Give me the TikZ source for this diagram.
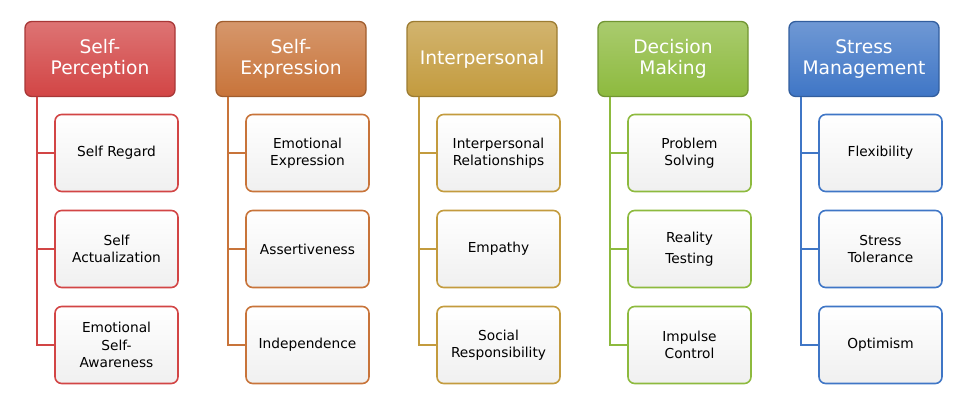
\documentclass[tikz,border=0pt]{standalone}
\usepackage{fontspec}
\setmainfont{DejaVu Sans}
\begin{document}
\begin{tikzpicture}[x=0.75pt,y=-0.75pt,
  hdr/.style={draw=#1!80!black, line width=1pt, rounded corners=5pt, top color=#1!75!white, bottom color=#1,
    minimum width=150*0.75pt, minimum height=75*0.75pt, text=white, font=\fontsize{14}{16}\selectfont, align=center, inner sep=1pt},
  kid/.style={draw=#1, line width=1.2pt, rounded corners=5pt, top color=white, bottom color=black!6,
    minimum width=123*0.75pt, minimum height=77*0.75pt, font=\fontsize{10.3}{13}\selectfont, align=center, inner sep=1pt},
  link/.style={draw=#1, line width=2pt}]
\useasboundingbox (0,0) rectangle (975,413);
\definecolor{cA}{HTML}{D24545}
\definecolor{cB}{HTML}{C8743A}
\definecolor{cC}{HTML}{C39B3E}
\definecolor{cD}{HTML}{8DBA3E}
\definecolor{cE}{HTML}{3F76C6}
\foreach \i/\c/\h/\a/\b/\d in {
 0/cA/{Self-\\Perception}/{Self Regard}/{Self\\Actualization}/{Emotional\\Self-\\Awareness},
 1/cB/{Self-\\Expression}/{Emotional\\Expression}/{Assertiveness}/{Independence},
 2/cC/{Interpersonal}/{Interpersonal\\Relationships}/{Empathy}/{Social\\Responsibility},
 3/cD/{Decision\\Making}/{Problem\\Solving}/{Reality\\[3pt]Testing}/{Impulse\\Control},
 4/cE/{Stress\\Management}/{Flexibility}/{Stress\\Tolerance}/{Optimism}} {
  \pgfmathsetmacro{\x}{100+191*\i}
  \node[hdr=\c] (h\i) at (\x,59) {\h};
  \node[kid=\c] (k\i a) at (\x+16.5,153) {\a};
  \node[kid=\c] (k\i b) at (\x+16.5,249) {\b};
  \node[kid=\c] (k\i c) at (\x+16.5,345) {\d};
  \coordinate (t\i) at (\x-63,97);
  \coordinate (v\i) at (\x-63,345);
  \draw[link=\c] (t\i) -- (v\i) -- (k\i c.west);
  \draw[link=\c] (k\i a.west) -- (k\i a.west -| t\i);
  \draw[link=\c] (k\i b.west) -- (k\i b.west -| t\i);
}
\end{tikzpicture}
\end{document}
